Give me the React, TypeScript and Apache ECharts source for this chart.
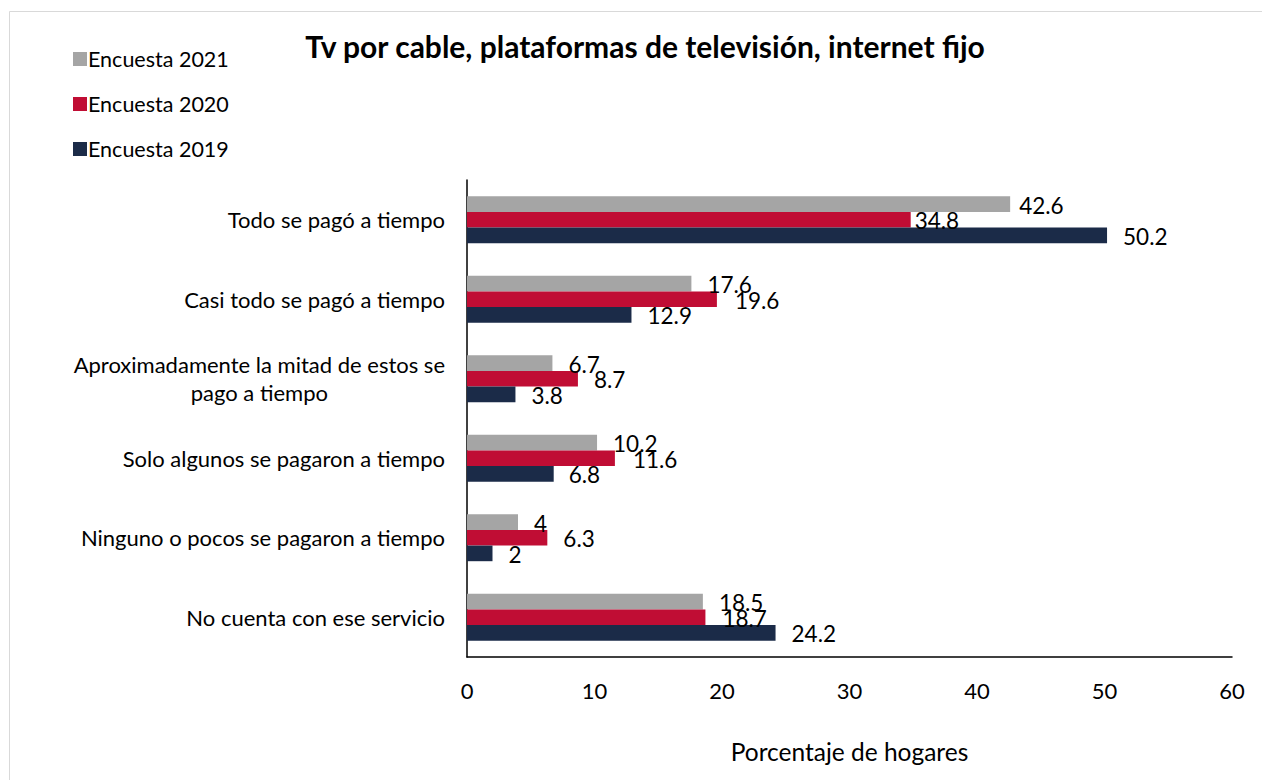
import React, { useEffect, useRef } from "react";
import * as echarts from "echarts";

const categories = [
  "Todo se pagó a tiempo",
  "Casi todo se pagó a tiempo",
  "Aproximadamente la mitad de estos se\npago a tiempo",
  "Solo algunos se pagaron a tiempo",
  "Ninguno o pocos se pagaron a tiempo",
  "No cuenta con ese servicio",
];
const seriesNames = ["Encuesta 2021", "Encuesta 2020", "Encuesta 2019"];
const values2021 = [42.6, 17.6, 6.7, 10.2, 4, 18.5];
const values2020 = [34.8, 19.6, 8.7, 11.6, 6.3, 18.7];
const values2019 = [50.2, 12.9, 3.8, 6.8, 2, 24.2];
const xTicks = [0, 10, 20, 30, 40, 50, 60];

const colors = ["#A5A5A5", "#C00D34", "#1B2B48"];
const FONT = "Lato, 'Open Sans', sans-serif";

export default function App() {
  const ref = useRef<HTMLDivElement>(null);
  useEffect(() => {
    if (!ref.current) return;
    const chart = echarts.init(ref.current, undefined, { renderer: "svg" });
    const labelDist: Record<string, number[]> = {
      "0": [9, 16, 16, 16, 16, 16],
      "1": [4, 18, 16, 18, 16, 17],
      "2": [16, 16, 16, 15, 16, 16],
    };
    const all = [values2021, values2020, values2019];
    chart.setOption({
      animation: false,
      textStyle: { fontFamily: FONT },
      title: {
        text: "Tv por cable, plataformas de televisión, internet fijo",
        left: 640,
        top: 26,
        textAlign: "center",
        textStyle: { fontFamily: FONT, fontSize: 30, fontWeight: "bold", color: "#000" },
      },
      legend: {
        orient: "vertical",
        left: 68,
        top: 43,
        itemWidth: 14,
        itemHeight: 14,
        itemGap: 23,
        icon: "rect",
        data: seriesNames,
        textStyle: { fontFamily: FONT, fontSize: 21.5, color: "#000", padding: [0, 0, 0, -4] },
      },
      graphic: [
        {
          type: "rect",
          shape: { x: 9.5, y: 11.5, width: 1300, height: 900 },
          style: { fill: "none", stroke: "#D9D9D9", lineWidth: 1 },
          silent: true,
        },
      ],
      grid: { left: 467, right: 30, top: 180, bottom: 123, containLabel: false },
      xAxis: {
        type: "value",
        min: xTicks[0],
        max: xTicks[xTicks.length - 1],
        interval: 10,
        splitLine: { show: false },
        axisLine: { show: true, lineStyle: { color: "#000", width: 1.5 } },
        axisTick: { show: false },
        axisLabel: { fontFamily: FONT, fontSize: 22, color: "#000", margin: 22 },
        name: "Porcentaje de hogares",
        nameLocation: "middle",
        nameGap: 82,
        nameTextStyle: { fontFamily: FONT, fontSize: 24.5, color: "#000" },
      },
      yAxis: {
        type: "category",
        inverse: true,
        data: categories,
        axisLine: { show: true, lineStyle: { color: "#000", width: 1.5 } },
        axisTick: { show: false },
        axisLabel: {
          fontFamily: FONT,
          fontSize: 22,
          color: "#000",
          margin: 22,
          formatter: (v: string) =>
            v
              .split("\n")
              .map((l) => `{a|${l}}`)
              .join("\n"),
          rich: { a: { fontFamily: FONT, fontSize: 22, color: "#000", align: "center", lineHeight: 28 } },
        },
      },
      series: seriesNames.map((name, si) => ({
        name,
        type: "bar",
        barGap: "0%",
        barCategoryGap: "41%",
        itemStyle: { color: colors[si] },
        label: {
          show: true,
          position: "right",
          fontFamily: FONT,
          fontSize: 22.5,
          color: "#000",
          offset: [0, 1],
        },
        data: all[si].map((v, i) => ({
          value: v,
          label: { distance: labelDist[String(si)][i] },
        })),
      })),
    });
    return () => chart.dispose();
  }, []);
  return (
    <div
      ref={ref}
      style={{ position: "absolute", left: 0, top: 0, width: 1262, height: 780, background: "#fff" }}
    />
  );
}
